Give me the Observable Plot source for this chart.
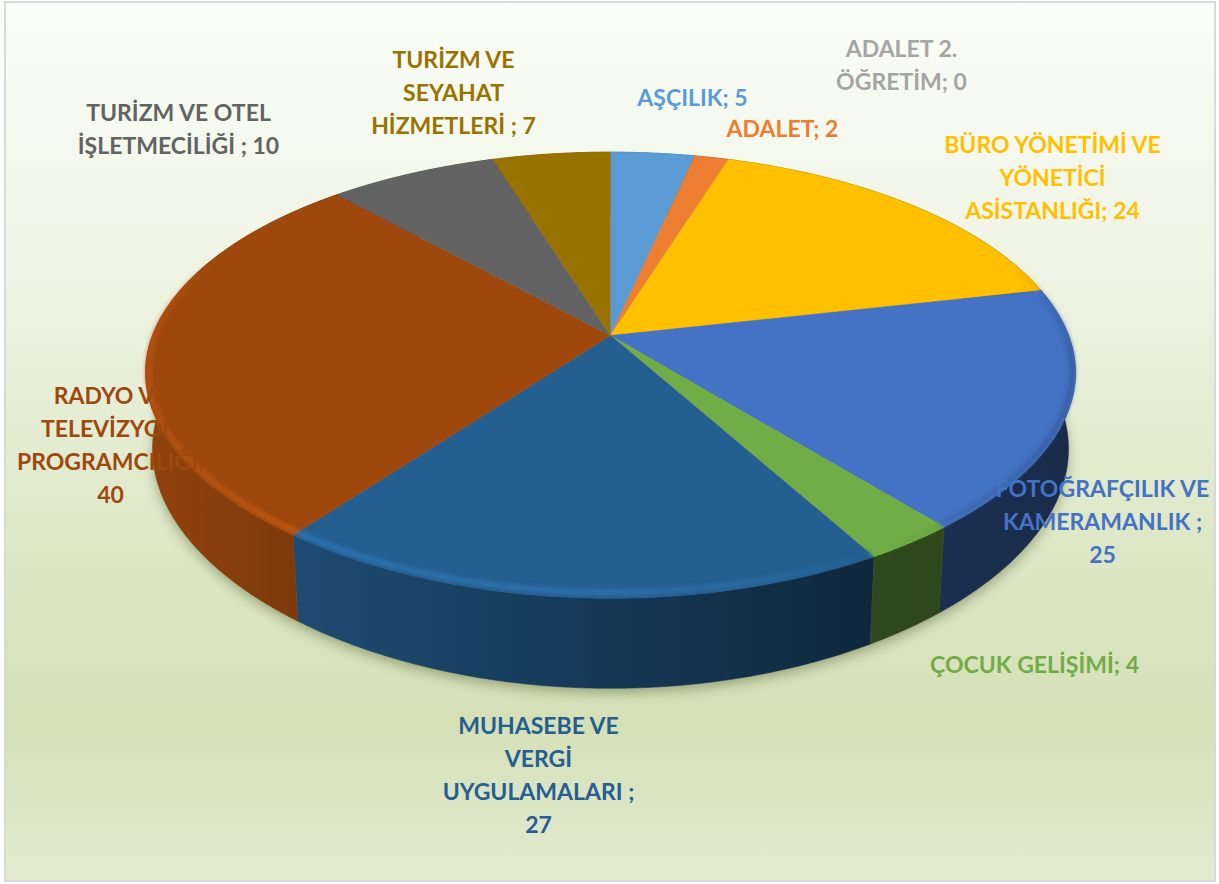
<!DOCTYPE html>
<html lang="tr">
<head>
<meta charset="utf-8">
<script src="https://cdn.jsdelivr.net/npm/d3@7"></script>
<script src="https://cdn.jsdelivr.net/npm/@observablehq/plot@0.6"></script>
<style>
html,body{margin:0;padding:0;background:#fff;}
#frame{position:absolute;left:4px;top:1px;width:1208px;height:877px;border:2px solid #d9d9d9;
background:linear-gradient(180deg,#fbfdf8 0%,#eff4e4 30%,#e2ebcf 52%,#d5e0b7 82%,#e3ead1 100%);}
#chart{position:absolute;left:0;top:0;}
#chart svg{background:transparent;}
</style>
</head>
<body>
<div id="frame"></div>
<div id="chart"></div>
<script>
const names = ["AŞÇILIK","ADALET","ADALET 2. ÖĞRETİM","BÜRO YÖNETİMİ VE YÖNETİCİ ASİSTANLIĞI","FOTOĞRAFÇILIK VE KAMERAMANLIK","ÇOCUK GELİŞİMİ","MUHASEBE VE VERGİ UYGULAMALARI","RADYO VE TELEVİZYON PROGRAMCILIĞI","TURİZM VE OTEL İŞLETMECİLİĞİ","TURİZM VE SEYAHAT HİZMETLERİ"];
const values = [5,2,0,24,25,4,27,40,10,7];
const colors = ["#5b9bd5","#ed7d31","#a5a5a5","#ffc000","#4472c4","#70ad47","#255e91","#9e480e","#636363","#997300"];
const labels = ["AŞÇILIK; 5","ADALET; 2","ADALET 2.\nÖĞRETİM; 0","BÜRO YÖNETİMİ VE\nYÖNETİCİ\nASİSTANLIĞI; 24","FOTOĞRAFÇILIK VE\nKAMERAMANLIK ;\n25","ÇOCUK GELİŞİMİ; 4","MUHASEBE VE\nVERGİ\nUYGULAMALARI ;\n27","RADYO VE\nTELEVİZYON\nPROGRAMCILIĞI;\n40","TURİZM VE OTEL\nİŞLETMECİLİĞİ ; 10","TURİZM VE\nSEYAHAT\nHİZMETLERİ ; 7"];
const labelX = [692,782,901,1052,1102,1034,538,110,178,453];
const labelY = [95,126,62,175,519,662,772.5,442,126,90];

// View of the tilted disc: centre, radii, perspective, thickness and front squeeze
const view = {cx:610, cy:335, a:458, b:216, k:0.178, h:74, shrink:0.985, squeeze:0.036};
const W = 1219, H = 884;

const arcs = d3.pie().sort(null).value(d => d)(values);
function frontSqueeze(v){ return 1 - view.squeeze*Math.max(0,v)*Math.max(0,v); }
function topPoint(t){
  const u = Math.sin(t), v = -Math.cos(t), d = 1 - view.k*v;
  return {x:view.cx + view.a*u/d*frontSqueeze(v), y:view.cy + view.b*v/d, v};
}
function lowPoint(t){
  const u = Math.sin(t), v = -Math.cos(t), d = 1 - view.k*v;
  return {x:view.cx + view.shrink*view.a*u/d*frontSqueeze(v), y:view.cy + (view.b*v + view.h)/d, v};
}
function sweep(a0,a1){
  const n = Math.max(2, Math.ceil((a1-a0)/0.01));
  return d3.range(n+1).map(i => a0 + (a1-a0)*i/n);
}
function shade(hex,f){
  const c = d3.rgb(hex);
  const g = v => Math.min(255, Math.round(v*f));
  return `rgb(${g(c.r)},${g(c.g)},${g(c.b)})`;
}
const wallStops  = [[143,0.92],[300,0.80],[620,0.58],[875,0.42],[1077,0.38]];
const bevelX = [143,300,620,800,900,1077];
const bevelF = [1.16,1.24,1.24,1.1,0.98,0.8];
const bevelShade = d3.scaleLinear().domain(bevelX).range(bevelF).clamp(true);
const bevelFade = d3.scaleLinear().domain([-0.4,0.05]).range([0,1]).clamp(true);

const wedges = [], walls = [], bevelSegments = [];
arcs.forEach((arc,i) => {
  if (values[i] === 0) return;
  const ts = sweep(arc.startAngle, arc.endAngle);
  const rim = ts.map(topPoint);
  const low = ts.map(lowPoint);
  const apex = {x:view.cx, y:view.cy};
  [apex,...rim].forEach(p => wedges.push({name:names[i], x:p.x, y:p.y}));
  walls.push({i, points:[...rim, ...low.slice().reverse()]});
  d3.pairs(rim).forEach(([p,q]) => {
    const inset = 3.5*Math.max(0,p.v) + 2.5;
    const toward = (r) => { const dx=view.cx-r.x, dy=view.cy-r.y, L=Math.hypot(dx,dy); return {x:r.x+dx/L*inset, y:r.y+dy/L*inset}; };
    const a = toward(p), b = toward(q);
    bevelSegments.push({x1:a.x,y1:a.y,x2:b.x,y2:b.y,color:shade(colors[i],bevelShade(p.x)),opacity:bevelFade(p.v)});
  });
});
const outline = sweep(0, 2*Math.PI).map(lowPoint);

function gradient(defs,id,color,stops){
  const g = defs.append("linearGradient").attr("id",id).attr("gradientUnits","userSpaceOnUse")
    .attr("x1",stops[0][0]).attr("x2",stops[stops.length-1][0]).attr("y1",0).attr("y2",0);
  const span = stops[stops.length-1][0]-stops[0][0];
  stops.forEach(([x,f]) => g.append("stop").attr("offset",(x-stops[0][0])/span).attr("stop-color",shade(color,f)));
}
const defsMark = () => {
  const defs = d3.create("svg:defs");
  colors.forEach((c,i) => gradient(defs,`wall${i}`,c,wallStops));
  return defs.node();
};

const plot = Plot.plot({
  width:W, height:H, margin:0,
  x:{domain:[0,W], range:[0,W], axis:null},
  y:{domain:[0,H], range:[0,H], axis:null},
  color:{domain:names, range:colors},
  marks:[
    defsMark,
    Plot.line(outline,{x:d=>d.x, y:d=>d.y+5, fill:"#5f6b3c", stroke:"none", fillOpacity:0.5, imageFilter:"blur(6px)"}),
    ...walls.map(w => Plot.line(w.points,{x:"x",y:"y",fill:`url(#wall${w.i})`,stroke:`url(#wall${w.i})`,strokeWidth:0.6})),
    Plot.line(wedges,{x:"x",y:"y",z:"name",fill:"name",stroke:"name",strokeWidth:0.5}),
    Plot.link(bevelSegments,{x1:"x1",y1:"y1",x2:"x2",y2:"y2",stroke:"color",strokeOpacity:"opacity",strokeWidth:5,strokeLinecap:"butt",imageFilter:"blur(2px)"}),
    Plot.text(labels,{
      x:(d,i)=>labelX[i], y:(d,i)=>labelY[i], text:d=>d,
      fill:(d,i)=>names[i], textAnchor:"middle", lineAnchor:"middle", lineHeight:1.435,
      fontFamily:"Lato", fontWeight:700, fontSize:23
    })
  ]
});
document.getElementById("chart").append(plot);
</script>
</body>
</html>
